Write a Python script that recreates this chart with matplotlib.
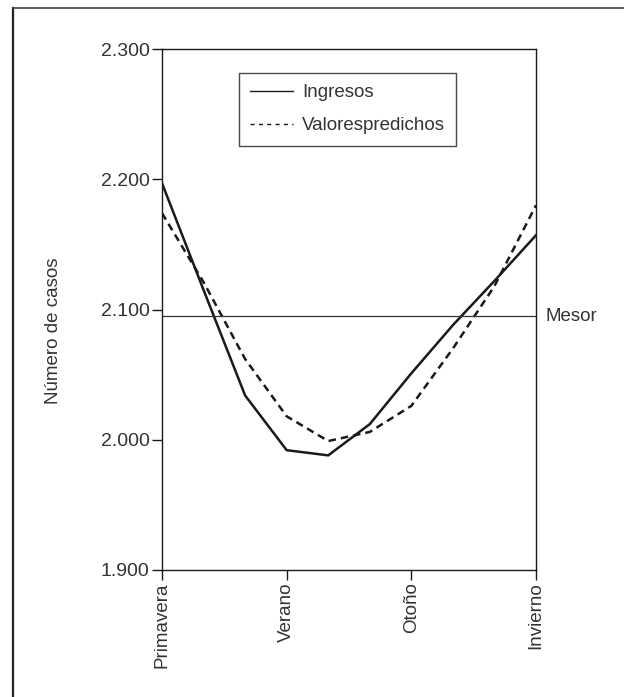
import matplotlib
matplotlib.use('Agg')
from matplotlib import pyplot as plt
from matplotlib.lines import Line2D
import numpy as np

plt.rcParams['font.family'] = ['Liberation Sans Narrow', 'Liberation Sans', 'DejaVu Sans']

# monthly positions across the four seasons (0 = Primavera ... 3 = Invierno)
months = [0, 1/3, 2/3, 1, 4/3, 5/3, 2, 7/3, 8/3, 3]
ingresos = [2197, 2115, 2034, 1992, 1988, 2012, 2051, 2088, 2122, 2157]
predichos = [2174, 2121, 2062, 2018, 1999, 2006, 2026, 2070, 2118, 2180]
mesor = 2095
seasons = ['Primavera', 'Verano', 'Otoño', 'Invierno']
yticks = [1900, 2000, 2100, 2200, 2300]
ytick_labels = ['1.900', '2.000', '2.100', '2.200', '2.300']

ink = '#1a1a1a'
txt = '#333333'

fig = plt.figure(figsize=(6.24, 6.97), dpi=100)

# border lines along top and left of the figure
fig.add_artist(Line2D([13/624, 13/624], [0, 1 - 7.5/697], color='#222222', lw=1.6))
fig.add_artist(Line2D([13/624, 1], [1 - 7.5/697, 1 - 7.5/697], color='#444444', lw=1.2))

ax = fig.add_axes([162/624, 127/697, 374/624, 521/697])

ax.plot(months, ingresos, color=ink, lw=1.8, solid_joinstyle='miter')
ax.plot(months, predichos, color=ink, lw=1.8, dashes=(3.0, 2.0))
ax.axhline(mesor, color='#333333', lw=0.9)

ax.set_xlim(0, 3)
ax.set_ylim(1900, 2300)
ax.set_xticks(range(4))
ax.set_xticklabels(seasons, rotation=90, color=txt, fontsize=13.5)
ax.set_yticks(yticks)
ax.set_yticklabels(ytick_labels, color=txt, fontsize=14)
ax.tick_params(direction='out', length=7, width=1.0, color=ink, pad=2)
for s in ax.spines.values():
    s.set_color(ink)
    s.set_linewidth(1.0)

ax.set_ylabel('Número de casos', color=txt, fontsize=13.5)
ax.yaxis.set_label_coords(-0.267, 0.459)

ax.text(1.025, (mesor - 1900) / 400, 'Mesor', transform=ax.transAxes,
        va='center', ha='left', color=txt, fontsize=13.5)

handles = [Line2D([], [], color=ink, lw=1.0),
           Line2D([], [], color=ink, lw=1.0, dashes=(3, 3))]
leg = ax.legend(handles, ['Ingresos', 'Valorespredichos'],
                loc='upper left', bbox_to_anchor=(0.206, 0.954),
                borderaxespad=0, frameon=True, fancybox=False, fontsize=13.5,
                handlelength=2.3, handletextpad=0.45, borderpad=0.6,
                labelspacing=0.85, labelcolor=txt)
leg.get_frame().set_edgecolor(ink)
leg.get_frame().set_linewidth(1.0)

plt.savefig('out.png', dpi=100)
